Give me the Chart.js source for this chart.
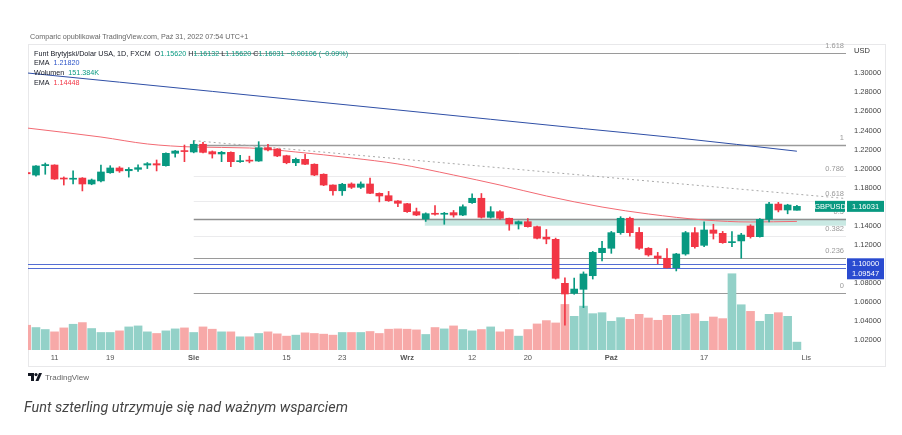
<!DOCTYPE html>
<html>
<head>
<meta charset="utf-8">
<script src="https://cdn.jsdelivr.net/npm/chart.js@4.4.0/dist/chart.umd.min.js"></script>
<style>
  html, body { margin: 0; padding: 0; background: #fff; }
  body { width: 902px; height: 435px; position: relative; overflow: hidden; font-family: 'Liberation Sans', Arial, sans-serif; }
  #frame { position: absolute; left: 28px; top: 44px; width: 858px; height: 323px; border: 1px solid #e8e8ea; box-sizing: border-box; }
  #box { position: absolute; left: 0; top: 0; width: 902px; height: 380px; }
  .t { position: absolute; white-space: nowrap; font-size: 7.2px; line-height: 9px; color: #131722; }
  #head { left: 30px; top: 32px; color: #666; }
  .g { color: #089981; }
  .b { color: #2e55c8; }
  .r { color: #f23645; }
  #logo { left: 28px; top: 373px; color: #666; font-size: 8px; }
  #logo svg { vertical-align: -1px; margin-right: 3px; }
  #caption { position: absolute; left: 24px; top: 399px; font-family: Roboto, sans-serif; font-style: italic; font-size: 14.4px; color: #444; white-space: nowrap; }
</style>
</head>
<body>
<div id="frame"></div>
<div id="box"><canvas id="chart"></canvas></div>
<div class="t" id="head">Comparic opublikował TradingView.com, Paź 31, 2022 07:54 UTC+1</div>
<div class="t" style="left:34px;top:49px">Funt Brytyjski/Dolar USA, 1D, FXCM&nbsp; O<span class="g">1.15620</span> H<span class="g">1.16132</span> L<span class="g">1.15620</span> C<span class="g">1.16031</span> <span class="g">−0.00106 (−0.09%)</span></div>
<div class="t" style="left:34px;top:58px">EMA&nbsp; <span class="b">1.21820</span></div>
<div class="t" style="left:34px;top:68px">Wolumen&nbsp; <span class="g">151.384K</span></div>
<div class="t" style="left:34px;top:78px">EMA&nbsp; <span class="r">1.14448</span></div>
<div class="t" id="logo"><svg width="14" height="8" viewBox="0 0 14 8"><path d="M0 0h6v8H3V3H0z" fill="#131722"/><circle cx="8" cy="1.6" r="1.6" fill="#131722"/><path d="M11 0h3l-3.5 8H7.5z" fill="#131722"/></svg>TradingView</div>
<div id="caption">Funt szterling utrzymuje się nad ważnym wsparciem</div>

<script>
// GBPUSD daily, 6 Jul - 31 Oct 2022 (FXCM)
const dates = ['06.07','07.07','08.07','11.07','12.07','13.07','14.07','15.07','18.07','19.07',
  '20.07','21.07','22.07','25.07','26.07','27.07','28.07','29.07','01.08','02.08',
  '03.08','04.08','05.08','08.08','09.08','10.08','11.08','12.08','15.08','16.08',
  '17.08','18.08','19.08','22.08','23.08','24.08','25.08','26.08','29.08','30.08',
  '31.08','01.09','02.09','05.09','06.09','07.09','08.09','09.09','12.09','13.09',
  '14.09','15.09','16.09','19.09','20.09','21.09','22.09','23.09','26.09','27.09',
  '28.09','29.09','30.09','03.10','04.10','05.10','06.10','07.10','10.10','11.10',
  '12.10','13.10','14.10','17.10','18.10','19.10','20.10','21.10','24.10','25.10',
  '26.10','27.10','28.10','31.10'];

const open = [1.1958,1.1932,1.2030,1.2037,1.1900,1.1888,1.1900,1.1838,1.1870,1.1956,
  1.2006,1.1977,1.1992,1.2037,1.2051,1.2030,1.2160,1.2184,1.2174,1.2255,
  1.2177,1.2153,1.2170,1.2072,1.2085,1.2079,1.2219,1.2205,1.2135,1.2061,
  1.2097,1.2045,1.1940,1.1827,1.1767,1.1838,1.1803,1.1838,1.1740,1.1715,
  1.1660,1.1631,1.1547,1.1470,1.1526,1.1520,1.1537,1.1512,1.1642,1.1688,
  1.1488,1.1547,1.1478,1.1418,1.1442,1.1390,1.1280,1.1257,1.0795,1.0690,
  1.0732,1.0875,1.1117,1.1163,1.1327,1.1478,1.1330,1.1163,1.1082,1.1058,
  1.0959,1.1103,1.1327,1.1194,1.1355,1.1320,1.1222,1.1240,1.1397,1.1285,
  1.1467,1.1627,1.1565,1.1562];
const high = [1.1990,1.2032,1.2058,1.2040,1.1912,1.1977,1.1905,1.1890,1.2037,1.2030,
  1.2020,1.2010,1.2040,1.2063,1.2090,1.2165,1.2190,1.2247,1.2293,1.2275,
  1.2185,1.2180,1.2175,1.2140,1.2130,1.2282,1.2255,1.2210,1.2140,1.2110,
  1.2150,1.2050,1.1945,1.1830,1.1845,1.1850,1.1860,1.1900,1.1745,1.1760,
  1.1665,1.1635,1.1585,1.1535,1.1612,1.1540,1.1560,1.1620,1.1735,1.1738,
  1.1600,1.1560,1.1480,1.1450,1.1475,1.1395,1.1360,1.1270,1.0854,1.0850,
  1.0915,1.1130,1.1235,1.1340,1.1495,1.1490,1.1380,1.1170,1.1120,1.1160,
  1.1110,1.1340,1.1380,1.1440,1.1415,1.1340,1.1337,1.1320,1.1410,1.1475,
  1.1645,1.1645,1.1625,1.1613];
const low = [1.1880,1.1920,1.1940,1.1885,1.1827,1.1838,1.1765,1.1830,1.1860,1.1950,
  1.1960,1.1910,1.1970,1.2000,1.1975,1.2025,1.2120,1.2072,1.2165,1.2165,
  1.2110,1.2072,1.2020,1.2065,1.2060,1.2075,1.2185,1.2125,1.2050,1.2030,
  1.2040,1.1925,1.1820,1.1720,1.1718,1.1790,1.1790,1.1735,1.1650,1.1655,
  1.1600,1.1540,1.1505,1.1445,1.1510,1.1415,1.1490,1.1505,1.1635,1.1480,
  1.1480,1.1465,1.1352,1.1365,1.1385,1.1260,1.1210,1.0840,1.0355,1.0680,
  1.0540,1.0840,1.1030,1.1110,1.1310,1.1290,1.1150,1.1080,1.1000,1.0955,
  1.0925,1.1090,1.1165,1.1180,1.1260,1.1215,1.1180,1.1058,1.1270,1.1280,
  1.1440,1.1545,1.1525,1.1562];
const close = [1.1945,1.2027,1.2042,1.1890,1.1890,1.1893,1.1838,1.1880,1.1964,1.2006,
  1.1975,1.1992,1.2009,1.2051,1.2037,1.2160,1.2184,1.2178,1.2255,1.2170,
  1.2153,1.2170,1.2072,1.2078,1.2078,1.2219,1.2195,1.2132,1.2061,1.2097,
  1.2045,1.1932,1.1827,1.1767,1.1835,1.1803,1.1838,1.1740,1.1712,1.1662,
  1.1635,1.1547,1.1512,1.1526,1.1520,1.1530,1.1512,1.1599,1.1688,1.1488,
  1.1547,1.1478,1.1418,1.1442,1.1390,1.1268,1.1260,1.0848,1.0683,1.0735,
  1.0893,1.1120,1.1163,1.1327,1.1478,1.1327,1.1163,1.1093,1.1058,1.0959,
  1.1103,1.1327,1.1180,1.1355,1.1320,1.1222,1.1232,1.1302,1.1285,1.1467,
  1.1627,1.1565,1.1617,1.1603];
// volume, thousands
const volume = [475,431,393,348,424,494,526,412,336,336,
  367,443,462,348,317,367,405,424,336,443,
  399,348,348,253,253,317,348,310,266,285,
  329,317,304,285,336,336,336,355,317,399,
  405,399,386,298,431,405,462,393,367,393,
  443,348,393,266,393,500,564,519,874,646,
  842,697,716,551,621,589,684,614,570,665,
  665,684,697,551,633,602,1463,868,741,551,
  684,716,646,151];

// EMA lines (index of candle, price)
const emaSlowIdx = [0, 10, 20, 30, 40, 50, 60, 70, 83];
const emaSlow = [1.3004, 1.2907, 1.2810, 1.2712, 1.2615, 1.2517, 1.2419, 1.2323, 1.2182];
const emaFastIdx = [0, 8, 13, 18, 24, 29, 35, 40, 46, 51, 56, 62, 67, 73, 78, 83];
const emaFast = [1.2426, 1.2331, 1.2258, 1.2226, 1.2216, 1.2174, 1.2111, 1.2048, 1.1932, 1.1827,
  1.1712, 1.1596, 1.1523, 1.1460, 1.1439, 1.1445];

// drawings
const fibLevels = ['1.618', '1', '0.786', '0.618', '0.5', '0.382', '0.236', '0'];
const fibPrices = [1.3216, 1.2252, 1.1918, 1.1656, 1.1473, 1.1289, 1.1061, 1.0693];
const fibStart = 18;
const trendIdx = [18, 88.3];
const trendPrice = [1.2293, 1.1685];
const zoneStart = 42.9;
const zoneTop = 1.1473;
const zoneBottom = 1.1400;
const hLines = [1.10000, 1.09547];
const lastPrice = 1.16031;

const priceTicks = [1.02, 1.04, 1.06, 1.08, 1.10, 1.12, 1.14, 1.16, 1.18, 1.20, 1.22, 1.24, 1.26, 1.28, 1.30];
const tickIdx = [3, 9, 18, 28, 34, 41, 48, 54, 63, 73, 84];
const tickText = ['11', '19', 'Sie', '15', '23', 'Wrz', '12', '20', 'Paź', '17', 'Lis'];
const monthTicks = ['Sie', 'Wrz', 'Paź'];

const UP = '#089981', DOWN = '#f23645';
const dirUp = open.map((o, i) => close[i] >= o);
const candleColors = dirUp.map(u => u ? UP : DOWN);
const volColors = dirUp.map(u => u ? '#93d1c8' : '#f7a9a8');

const FONT = "'Liberation Sans', Arial, sans-serif";

const drawings = {
  id: 'drawings',
  beforeDatasetsDraw(chart) {
    const { ctx, chartArea: a, scales: { x, y } } = chart;
    ctx.save();
    ctx.beginPath();
    ctx.rect(a.left, a.top, a.width, a.height);
    ctx.clip();

    const zx = x.getPixelForValue(zoneStart);
    const zt = y.getPixelForValue(zoneTop);
    const zb = y.getPixelForValue(zoneBottom);
    ctx.fillStyle = 'rgba(8,153,129,0.22)';
    ctx.fillRect(zx, zt, a.right - zx, zb - zt);

    const fx = x.getPixelForValue(fibStart);
    fibLevels.forEach((lvl, i) => {
      const py = Math.round(y.getPixelForValue(fibPrices[i])) + 0.5;
      const faint = lvl === '0.786' || lvl === '0.618' || lvl === '0.382';
      ctx.strokeStyle = faint ? 'rgba(120,123,134,0.15)' : (lvl === '0.5' ? '#8f8f8f' : '#9a9a9a');
      ctx.lineWidth = lvl === '0.5' || lvl === '1' ? 1.5 : 1;
      ctx.beginPath();
      ctx.moveTo(fx, py);
      ctx.lineTo(a.right, py);
      ctx.stroke();
    });

    hLines.forEach(p => {
      const py = Math.round(y.getPixelForValue(p)) + 0.5;
      ctx.strokeStyle = 'rgba(41,72,200,0.8)';
      ctx.lineWidth = 1;
      ctx.beginPath();
      ctx.moveTo(a.left, py);
      ctx.lineTo(a.right, py);
      ctx.stroke();
    });
    ctx.restore();
  },
  afterDraw(chart) {
    const { ctx, chartArea: a, scales: { y } } = chart;
    ctx.save();
    ctx.font = '7.5px ' + FONT;
    ctx.textBaseline = 'middle';
    ctx.textAlign = 'right';
    ctx.fillStyle = '#9a9a9a';
    fibLevels.forEach((lvl, i) => {
      ctx.fillText(lvl, a.right - 2, y.getPixelForValue(fibPrices[i]) - 7);
    });

    ctx.textAlign = 'left';
    ctx.fillStyle = '#333';
    ctx.fillText('USD', a.right + 8, a.top + 7);

    const box = (x0, w, py, fill, text) => {
      ctx.fillStyle = fill;
      ctx.fillRect(x0, py - 5.5, w, 11);
      ctx.fillStyle = '#fff';
      ctx.textAlign = 'center';
      ctx.fillText(text, x0 + w / 2, py + 0.5);
    };
    const lp = y.getPixelForValue(lastPrice);
    box(a.right - 31, 30, lp, UP, 'GBPUSD');
    box(a.right + 1, 37, lp, UP, lastPrice.toFixed(5));
    const b1 = y.getPixelForValue(hLines[0]);
    box(a.right + 1, 37, b1, '#2a4bd0', hLines[0].toFixed(5));
    box(a.right + 1, 37, b1 + 10, '#2a4bd0', hLines[1].toFixed(5));
    ctx.restore();
  }
};

new Chart(document.getElementById('chart'), {
  type: 'bar',
  data: {
    datasets: [
      {
        type: 'bar', label: 'Wolumen', yAxisID: 'yv', order: 10,
        data: volume.map((v, i) => ({ x: i, y: v })),
        backgroundColor: volColors, barThickness: 8, grouped: false
      },
      {
        type: 'line', label: 'EMA slow', order: 5,
        data: emaSlowIdx.map((d, i) => ({ x: d, y: emaSlow[i] })),
        borderColor: '#2f4fa6', borderWidth: 1, pointRadius: 0, cubicInterpolationMode: 'monotone'
      },
      {
        type: 'line', label: 'EMA fast', order: 5,
        data: emaFastIdx.map((d, i) => ({ x: d, y: emaFast[i] })),
        borderColor: '#f26a73', borderWidth: 1, pointRadius: 0, cubicInterpolationMode: 'monotone'
      },
      {
        type: 'line', label: 'trend', order: 6,
        data: trendIdx.map((d, i) => ({ x: d, y: trendPrice[i] })),
        borderColor: '#a8a8a8', borderWidth: 1, borderDash: [2, 3], pointRadius: 0
      },
      {
        type: 'bar', label: 'wick', order: 2,
        data: low.map((l, i) => ({ x: i, y: [l, high[i]] })),
        backgroundColor: candleColors, barThickness: 1, grouped: false
      },
      {
        type: 'bar', label: 'body', order: 1,
        data: open.map((o, i) => ({ x: i, y: [o, close[i]] })),
        backgroundColor: candleColors, barThickness: 7, minBarLength: 1, grouped: false
      }
    ]
  },
  options: {
    responsive: true,
    maintainAspectRatio: false,
    animation: false,
    events: [],
    layout: { padding: { left: 28, right: 16, top: 44, bottom: 13 } },
    plugins: { legend: { display: false }, tooltip: { enabled: false } },
    scales: {
      x: {
        type: 'linear', min: 0.14, max: 88.29, offset: false,
        grid: { display: false, drawTicks: false },
        border: { display: false },
        afterBuildTicks: scale => { scale.ticks = tickIdx.map(v => ({ value: v })); },
        afterFit: scale => { scale.height = 17; },
        ticks: {
          autoSkip: false, maxRotation: 0, padding: 3, color: '#555',
          font: ctx => ({ family: FONT, size: 7.5, weight: ctx.tick && monthTicks.includes(tickText[tickIdx.indexOf(ctx.tick.value)]) ? 'bold' : 'normal' }),
          callback: v => tickText[tickIdx.indexOf(v)]
        }
      },
      y: {
        type: 'linear', position: 'right', min: 1.00950, max: 1.33076,
        grid: { display: false, drawTicks: false },
        border: { display: false },
        afterBuildTicks: scale => { scale.ticks = priceTicks.map(v => ({ value: v })); },
        afterFit: scale => { scale.width = 40; },
        ticks: {
          padding: 8, color: '#444', font: { family: FONT, size: 7.5 },
          callback: v => v.toFixed(5)
        }
      },
      yv: {
        type: 'linear', display: false, min: 0, max: 5870
      }
    }
  },
  plugins: [drawings]
});
</script>
</body>
</html>
